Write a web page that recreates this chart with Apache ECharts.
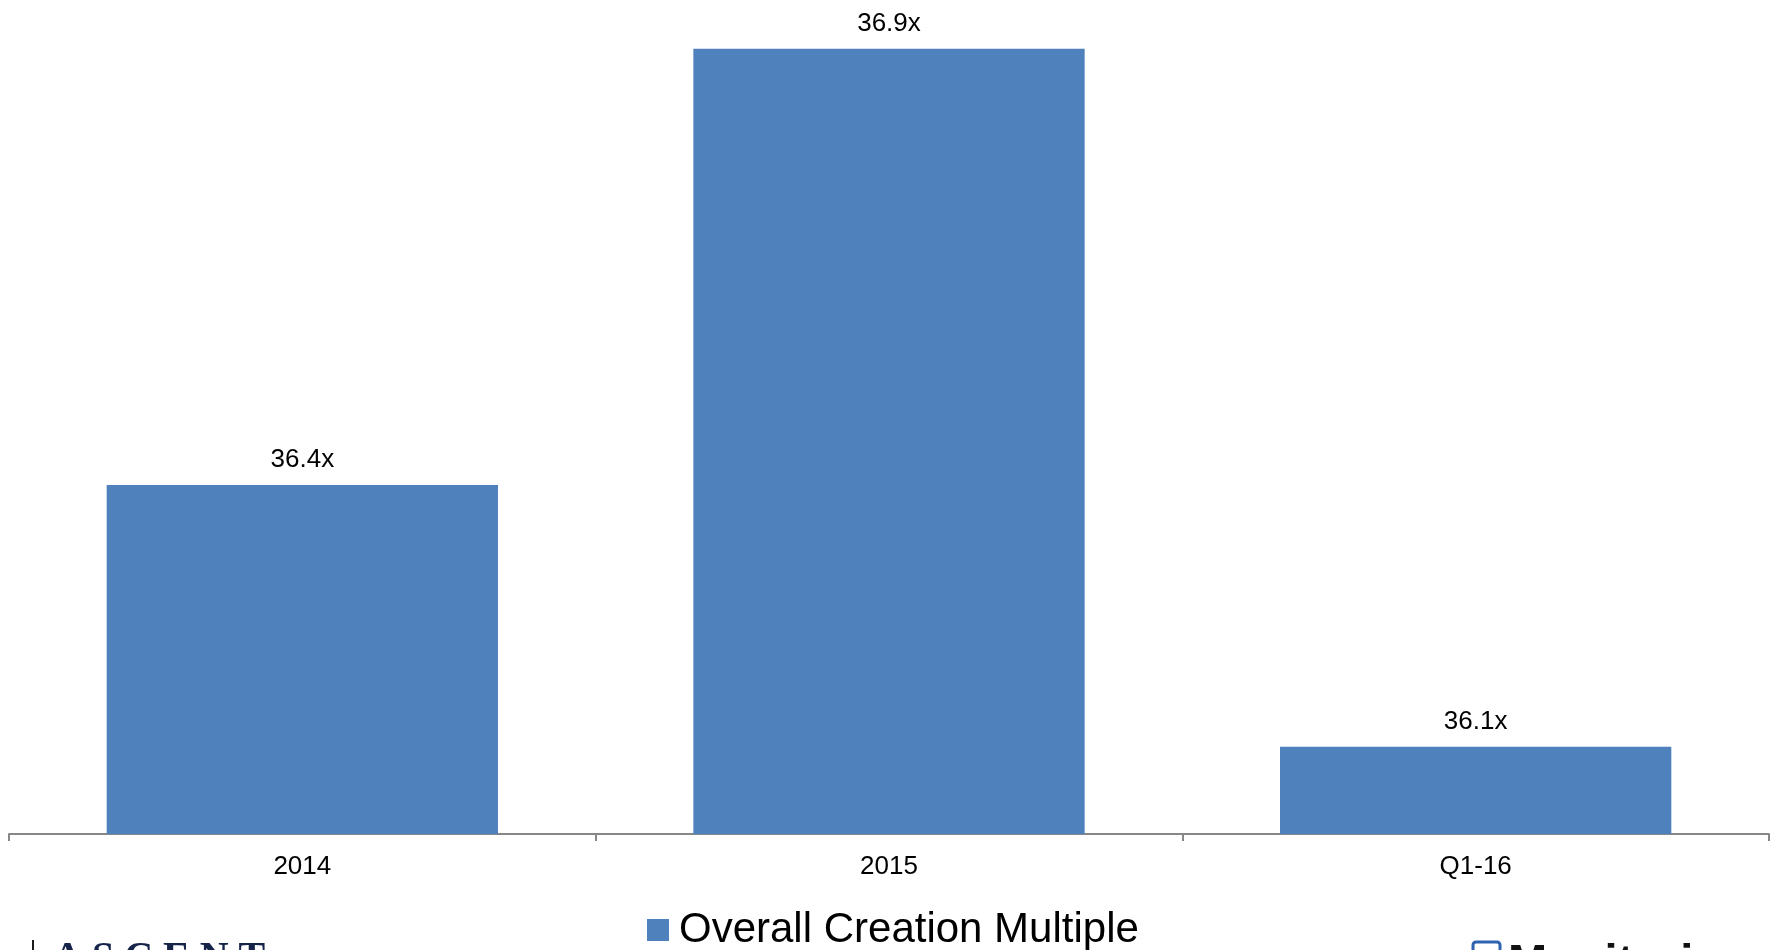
<!DOCTYPE html>
<html>
<head>
<meta charset="utf-8">
<title>Overall Creation Multiple</title>
<script src="https://cdn.jsdelivr.net/npm/echarts@6/dist/echarts.min.js"></script>
<style>
  html, body { margin: 0; padding: 0; background: #ffffff; }
  #chart { width: 1777px; height: 950px; }
</style>
</head>
<body>
<div id="chart"></div>
<script>
// Periods on the category axis
const categories = ['2014', '2015', 'Q1-16'];
// Overall creation multiple per period (x)
const multiples = [36.4, 36.9, 36.1];
const seriesName = 'Overall Creation Multiple';

const chart = echarts.init(document.getElementById('chart'), null, { renderer: 'canvas' });

const baseFont = 'Liberation Sans, Arial, sans-serif';

chart.setOption({
  backgroundColor: '#ffffff',
  animation: false,
  grid: { left: 9, right: 8, top: 0, bottom: 116, containLabel: false },
  legend: {
    data: [seriesName],
    left: 642,
    top: 904,
    icon: 'rect',
    itemWidth: 22,
    itemHeight: 22,
    textStyle: {
      fontFamily: baseFont,
      fontSize: 42,
      color: '#000000',
      padding: [0, 0, 0, 5]
    }
  },
  xAxis: {
    type: 'category',
    data: categories,
    boundaryGap: true,
    axisLine: { show: true, lineStyle: { color: '#878787', width: 2 } },
    axisTick: { show: true, alignWithLabel: false, length: 7, lineStyle: { color: '#878787', width: 2 } },
    axisLabel: {
      margin: 20,
      fontFamily: baseFont,
      fontSize: 26,
      color: '#000000'
    },
    splitLine: { show: false }
  },
  yAxis: {
    type: 'value',
    min: 36,
    max: 36.956,
    show: false,
    splitLine: { show: false }
  },
  series: [{
    name: seriesName,
    type: 'bar',
    data: multiples,
    barWidth: '66.7%',
    itemStyle: { color: '#4f81bd' },
    label: {
      show: true,
      position: 'top',
      distance: 12,
      fontFamily: baseFont,
      fontSize: 26,
      color: '#000000',
      formatter: p => p.value.toFixed(1) + 'x'
    }
  }],
  graphic: [
    // left logo, cut by the bottom edge
    { type: 'rect', shape: { x: 32, y: 940, width: 2, height: 20 }, style: { fill: '#1b1b1b' }, silent: true },
    {
      type: 'text', x: 53, y: 959,
      style: {
        text: 'A S C E N T',
        font: 'bold 40px "Liberation Serif", "Times New Roman", serif',
        fill: '#16244a',
        verticalAlign: 'middle',
        align: 'left'
      },
      silent: true
    },
    // right logo, cut by the bottom edge
    {
      type: 'rect', shape: { x: 1473, y: 942, width: 27, height: 27, r: 3 },
      style: { fill: 'none', stroke: '#2f63b0', lineWidth: 3 }, silent: true
    },
    {
      type: 'text', x: 1508, y: 964,
      style: {
        text: 'Monitoring',
        font: 'bold 47px "Liberation Sans", Arial, sans-serif',
        fill: '#111111',
        verticalAlign: 'middle',
        align: 'left'
      },
      silent: true
    }
  ]
});
</script>
</body>
</html>
